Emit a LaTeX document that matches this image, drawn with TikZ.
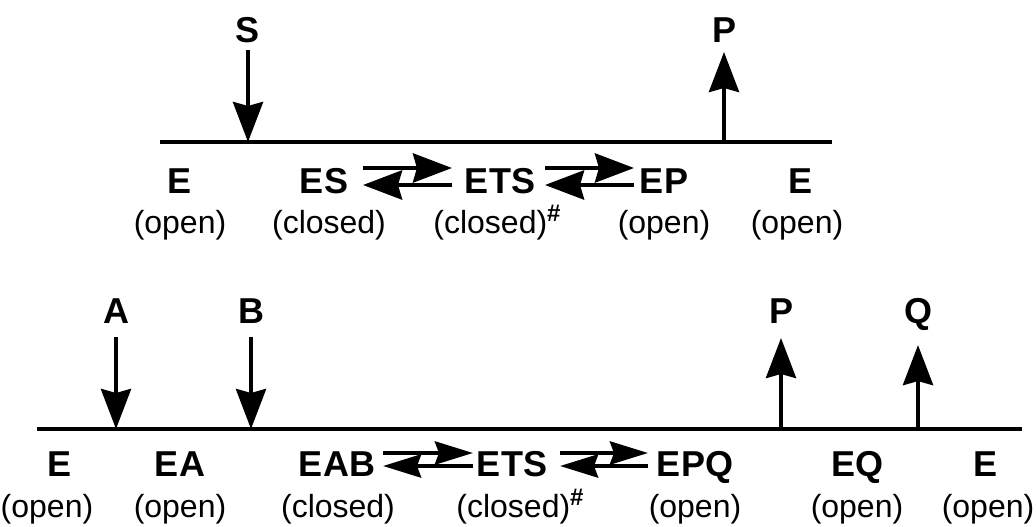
\documentclass[tikz,border=0pt]{standalone}
\usepackage{fontspec}
\setmainfont{Liberation Sans}
\usetikzlibrary{arrows.meta}
\begin{document}
\begin{tikzpicture}[x=1pt,y=-1pt,
  big/.style={font=\fontsize{36}{36}\selectfont\bfseries, anchor=base, inner sep=0pt, outer sep=0pt},
  small/.style={font=\fontsize{32}{32}\selectfont, anchor=base, inner sep=0pt, outer sep=0pt},
  baseline/.style={line width=4.5pt},
  varrow/.style={line width=4pt, -{Stealth[length=40pt,width=30pt,inset=4pt]}},
  eqarrow/.style={line width=4.5pt, -{Stealth[length=39pt,width=29pt,inset=4pt]}},
  eqarrowb/.style={line width=4.5pt, -{Stealth[length=38pt,width=23pt,inset=4pt]}}]
\useasboundingbox (0,0) rectangle (1036,527);
\newcommand{\hsh}{\raisebox{12pt}{\fontsize{24}{24}\selectfont\bfseries\#}}

% ---------- top scheme ----------
\coordinate (tL) at (160,142);
\coordinate (tR) at (832,142);
\draw[baseline] (tL) -- (tR);

\node[big] (S) at (248,43) {S};
\coordinate (s1) at (248,142);
\draw[varrow, shorten <=7pt] (S.south) -- (s1);

\node[big] (P1) at (724,43) {P};
\coordinate (p1) at (724,142);
\draw[varrow, shorten >=9pt] (p1) -- (P1.south);

\node[big] (E1) at (180,193) {E};
\node[big] (ES) at (324,193) {ES};
\node[big] (ETS1) at (500,193) {ETS};
\node[big] (EP) at (664,193) {EP};
\node[big] (E2) at (800,193) {E};

\node[small] (o1) at (180,233) {(open)};
\node[small] (c1) at (329,233) {(closed)};
\node[small] (c2) at (497,233) {(closed)\hsh};
\node[small] (o2) at (664,233) {(open)};
\node[small] (o3) at (797,233) {(open)};

\coordinate (a1l) at (363,168); \coordinate (a1r) at (452,168);
\coordinate (b1l) at (363,185); \coordinate (b1r) at (452,185);
\draw[eqarrow] (a1l) -- (a1r);
\draw[eqarrow] (b1r) -- (b1l);
\coordinate (a2l) at (545,168); \coordinate (a2r) at (634,168);
\coordinate (b2l) at (545,185); \coordinate (b2r) at (634,185);
\draw[eqarrow] (a2l) -- (a2r);
\draw[eqarrow] (b2r) -- (b2l);

% ---------- bottom scheme ----------
\coordinate (bL) at (37,429);
\coordinate (bR) at (1022,429);
\draw[baseline] (bL) -- (bR);

\node[big] (A) at (116,323) {A};
\coordinate (aa) at (116,429);
\draw[varrow, shorten <=14pt] (A.south) -- (aa);
\node[big] (B) at (251,323) {B};
\coordinate (bb) at (251,429);
\draw[varrow, shorten <=14pt] (B.south) -- (bb);
\node[big] (P2) at (781,323) {P};
\coordinate (pp) at (781,429);
\draw[varrow, shorten >=15pt] (pp) -- (P2.south);
\node[big] (Q) at (918,323) {Q};
\coordinate (qq) at (918,429);
\draw[varrow, shorten >=15pt] (qq) -- (Q.south);

\node[big] (E3) at (60,476) {E};
\node[big] (EA) at (180,476) {EA};
\node[big] (EAB) at (337,476) {EAB};
\node[big] (ETS2) at (512,476) {ETS};
\node[big] (EPQ) at (695,476) {EPQ};
\node[big] (EQ) at (857,476) {EQ};
\node[big] (E4) at (985,476) {E};

\node[small] (o4) at (47,517) {(open)};
\node[small] (o5) at (180,517) {(open)};
\node[small] (c3) at (338,517) {(closed)};
\node[small] (c4) at (520,517) {(closed)\hsh};
\node[small] (o6) at (695,517) {(open)};
\node[small] (o7) at (857,517) {(open)};
\node[small] (o8) at (988,517) {(open)};

\coordinate (a3l) at (383,453); \coordinate (a3r) at (473,453);
\coordinate (b3l) at (383,466); \coordinate (b3r) at (473,466);
\draw[eqarrowb] (a3l) -- (a3r);
\draw[eqarrowb] (b3r) -- (b3l);
\coordinate (a4l) at (560,453); \coordinate (a4r) at (648,453);
\coordinate (b4l) at (560,466); \coordinate (b4r) at (648,466);
\draw[eqarrowb] (a4l) -- (a4r);
\draw[eqarrowb] (b4r) -- (b4l);
\end{tikzpicture}
\end{document}
